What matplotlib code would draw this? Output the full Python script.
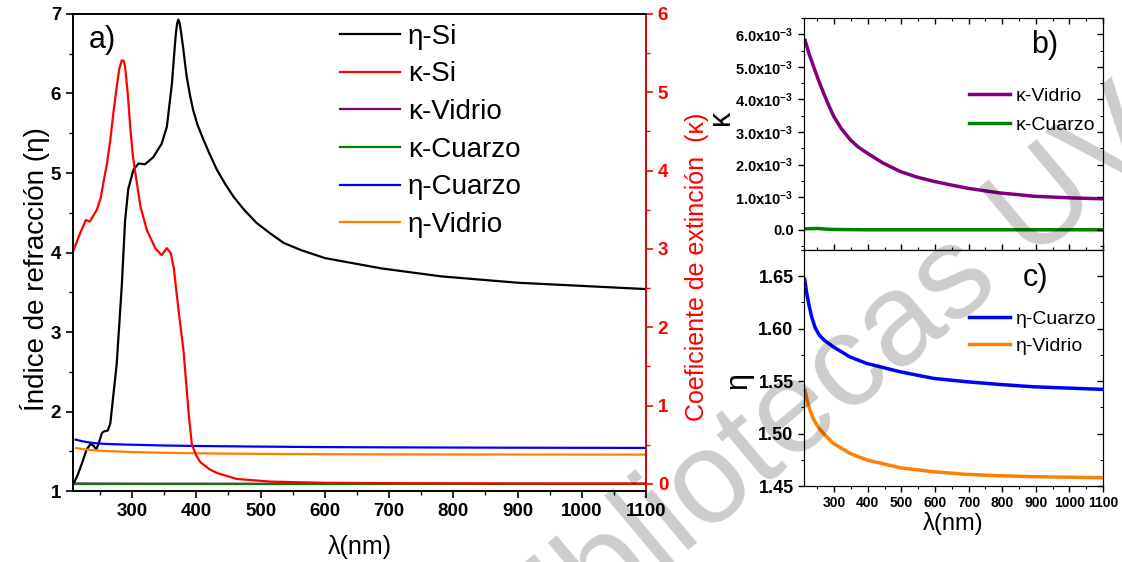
import numpy as np
import matplotlib.pyplot as plt
from matplotlib.ticker import MultipleLocator

plt.rcParams['font.family'] = ['Liberation Sans', 'DejaVu Sans']
plt.rcParams['mathtext.fontset'] = 'custom'
plt.rcParams['mathtext.rm'] = 'Liberation Sans'
plt.rcParams['mathtext.bf'] = 'Liberation Sans:bold'

# eta of silicon
wl_eta_si = [209, 215, 222, 229, 235, 240, 244, 248, 253, 256, 262, 266, 270, 276, 280, 284,
             289, 294, 302, 310, 320, 333, 346, 354, 362, 365, 368, 370, 372, 374, 376, 379,
             382, 385, 390, 395, 402, 411, 420, 432, 445, 458, 475, 494, 515, 536, 563, 600,
             688, 781, 900, 1000, 1100]
eta_si = [1.09, 1.2, 1.35, 1.52, 1.59, 1.57, 1.52, 1.6, 1.73, 1.75, 1.76, 1.85, 2.15, 2.6, 3.1, 3.6,
          4.4, 4.8, 5.04, 5.12, 5.11, 5.2, 5.37, 5.58, 6.13, 6.45, 6.75, 6.88, 6.93, 6.88, 6.78, 6.6,
          6.4, 6.21, 5.98, 5.79, 5.6, 5.42, 5.25, 5.04, 4.86, 4.70, 4.53, 4.37, 4.24, 4.12, 4.03, 3.93,
          3.80, 3.70, 3.62, 3.58, 3.54]

# kappa of silicon
wl_k_si = [209, 219, 228, 234, 245, 251, 256, 261, 266, 271, 276, 280, 284, 287, 289, 293, 297,
           301, 305, 313, 323, 336, 346, 354, 360, 365, 369, 374, 380, 385, 388, 393, 400, 406,
           420, 432, 463, 515, 600, 700, 800, 900, 1000, 1100]
k_si = [2.99, 3.2, 3.37, 3.35, 3.5, 3.65, 3.88, 4.1, 4.39, 4.75, 5.07, 5.3, 5.41, 5.4, 5.33, 5.0,
        4.56, 4.2, 3.97, 3.54, 3.24, 3.01, 2.92, 3.01, 2.95, 2.75, 2.45, 2.1, 1.7, 1.2, 0.9, 0.5,
        0.36, 0.28, 0.19, 0.14, 0.064, 0.03, 0.015, 0.01, 0.008, 0.006, 0.005, 0.005]

# glass / quartz refractive index
wl_eta_cz = [212, 218, 225, 233, 243, 255, 270, 297, 347, 397, 496, 595, 694, 793, 892, 1100]
eta_cz = [1.647, 1.634, 1.622, 1.611, 1.601, 1.594, 1.589, 1.5827, 1.573, 1.5668, 1.5589,
          1.5526, 1.5494, 1.5468, 1.5446, 1.5421]
wl_eta_vd = [213, 220, 228, 235, 243, 255, 268, 297, 347, 397, 496, 595, 694, 793, 892, 1100]
eta_vd = [1.541, 1.531, 1.522, 1.516, 1.511, 1.505, 1.500, 1.4907, 1.4811, 1.4748, 1.4674,
          1.4636, 1.4611, 1.4598, 1.4589, 1.4579]

# glass / quartz extinction (x1e-3)
wl_k_vd = [213, 225, 238, 252, 268, 283, 298, 320, 347, 370, 397, 445, 496, 545, 595, 645, 694,
           745, 793, 845, 892, 1000, 1100]
k_vd = [5.82, 5.4, 5.02, 4.62, 4.2, 3.83, 3.49, 3.12, 2.77, 2.55, 2.36, 2.05, 1.79, 1.62, 1.49,
        1.38, 1.28, 1.2, 1.13, 1.08, 1.03, 0.98, 0.95]
wl_k_cz = [212, 250, 290, 400, 1100]
k_cz = [0.03, 0.04, 0.01, 0.0, 0.0]

k_vd_abs = np.array(k_vd) * 1e-3
k_cz_abs = np.array(k_cz) * 1e-3

x_ticks = list(range(300, 1101, 100))
a_left_ticks = [1, 2, 3, 4, 5, 6, 7]
a_right_ticks = [0, 1, 2, 3, 4, 5, 6]
b_ticks = [0, 1e-3, 2e-3, 3e-3, 4e-3, 5e-3, 6e-3]
b_labels = ['0.0'] + [r'$\mathbf{%d.0x10^{-3}}$' % i for i in range(1, 7)]
c_ticks = [1.45, 1.50, 1.55, 1.60, 1.65]

c_pur = '#800080'
c_grn = '#008000'
c_blu = '#0000ff'
c_org = '#ff8000'
bold = {'fontweight': 'bold'}

fig = plt.figure(figsize=(11.22, 5.62), dpi=100)

# ---- panel a ----
ax = fig.add_axes([0.0651, 0.1263, 0.5107, 0.8488])
axk = ax.twinx()

l1, = ax.plot(wl_eta_si, eta_si, color='black', lw=1.6)
l5, = ax.plot(wl_eta_cz, eta_cz, color=c_blu, lw=1.6)
l6, = ax.plot(wl_eta_vd, eta_vd, color=c_org, lw=1.6)
l3, = axk.plot(wl_k_vd, k_vd_abs, color=c_pur, lw=1.6)
l4, = axk.plot(wl_k_cz, k_cz_abs, color=c_grn, lw=1.6)
l2, = axk.plot(wl_k_si, k_si, color='red', lw=1.6)

ax.set_xlim(208, 1100)
ax.set_ylim(1, 7)
axk.set_ylim(-0.09, 6)
ax.set_xticks(x_ticks, [str(v) for v in x_ticks], **bold)
ax.set_yticks(a_left_ticks, [str(v) for v in a_left_ticks], **bold)
axk.set_yticks(a_right_ticks, [str(v) for v in a_right_ticks], **bold)
ax.xaxis.set_minor_locator(MultipleLocator(50))
ax.yaxis.set_minor_locator(MultipleLocator(0.5))
axk.yaxis.set_minor_locator(MultipleLocator(0.5))

for a in (ax, axk):
    a.tick_params(which='major', direction='out', length=5, width=1.2, labelsize=13.5)
    a.tick_params(which='minor', direction='out', length=3, width=1.0)
    for s in a.spines.values():
        s.set_linewidth(1.2)
axk.tick_params(axis='y', which='both', colors='red')
axk.spines['right'].set_color('red')

ax.set_ylabel('Índice de refracción (η)', fontsize=20)
ax.yaxis.set_label_coords(-0.04, 0.465)
axk.set_ylabel('Coeficiente de extinción  (κ)', fontsize=18, color='red')
axk.yaxis.set_label_coords(1.068, 0.47)
ax.set_xlabel('λ(nm)', fontsize=18)
ax.xaxis.set_label_coords(0.5, -0.092)
ax.text(0.052, 0.945, 'a)', transform=ax.transAxes, fontsize=22, ha='center', va='center')

axk.legend([l1, l2, l3, l4, l5, l6], ['η-Si', 'κ-Si', 'κ-Vidrio', 'κ-Cuarzo', 'η-Cuarzo', 'η-Vidrio'],
           loc='upper left', bbox_to_anchor=(0.303, 0.958), bbox_transform=fig.transFigure,
           frameon=False, fontsize=20, borderpad=0, borderaxespad=0, handlelength=2.15,
           handletextpad=0.3, labelspacing=0.42)

# ---- panel b ----
axb = fig.add_axes([0.7166, 0.5552, 0.2665, 0.4128])
axb.plot(wl_k_vd, k_vd_abs, color=c_pur, lw=2.5, label='κ-Vidrio')
axb.plot(wl_k_cz, k_cz_abs, color=c_grn, lw=2.5, label='κ-Cuarzo')
axb.set_xlim(210, 1100)
axb.set_ylim(-0.62e-3, 6.5e-3)
axb.set_xticks(x_ticks)
axb.xaxis.set_minor_locator(MultipleLocator(50))
axb.set_yticks(b_ticks, b_labels, **bold)
axb.yaxis.set_minor_locator(MultipleLocator(0.5e-3))
axb.tick_params(axis='x', which='both', labelbottom=False, direction='in', top=True)
axb.tick_params(axis='y', which='both', direction='out', labelsize=10.5)
axb.tick_params(which='major', length=4, width=1.0)
axb.tick_params(which='minor', length=2.5, width=0.8)
axb.set_ylabel('κ', fontsize=22)
axb.yaxis.set_label_coords(-0.228, 0.57)
axb.text(0.806, 0.884, 'b)', transform=axb.transAxes, fontsize=22, ha='center', va='center')
axb.legend(loc='upper left', bbox_to_anchor=(0.8636, 0.845), bbox_transform=fig.transFigure,
           frameon=False, fontsize=14, borderpad=0, borderaxespad=0, handlelength=2.1,
           handletextpad=0.3, labelspacing=0.6)
# inward ticks on the right side
axb_r = axb.twinx()
axb_r.set_ylim(axb.get_ylim())
axb_r.set_yticks(b_ticks)
axb_r.yaxis.set_minor_locator(MultipleLocator(0.5e-3))
axb_r.tick_params(axis='y', which='both', direction='in', labelright=False)
axb_r.tick_params(which='major', length=4, width=1.0)
axb_r.tick_params(which='minor', length=2.5, width=0.8)

# ---- panel c ----
axc = fig.add_axes([0.7166, 0.1352, 0.2665, 0.42])
axc.plot(wl_eta_cz, eta_cz, color=c_blu, lw=2.5, label='η-Cuarzo')
axc.plot(wl_eta_vd, eta_vd, color=c_org, lw=2.5, label='η-Vidrio')
axc.set_xlim(210, 1100)
axc.set_ylim(1.45, 1.675)
axc.set_xticks(x_ticks, [str(v) for v in x_ticks], **bold)
axc.xaxis.set_minor_locator(MultipleLocator(50))
axc.set_yticks(c_ticks, ['%.2f' % v for v in c_ticks], **bold)
axc.yaxis.set_minor_locator(MultipleLocator(0.025))
axc.tick_params(axis='x', which='both', direction='out', labelsize=10)
axc.tick_params(axis='y', which='both', direction='out', labelsize=13)
axc.tick_params(which='major', length=4, width=1.0)
axc.tick_params(which='minor', length=2.5, width=0.8)
axc.set_ylabel('η', fontsize=22)
axc.yaxis.set_label_coords(-0.17, 0.445)
axc.set_xlabel('λ(nm)', fontsize=17)
axc.xaxis.set_label_coords(0.498, -0.11)
axc.text(0.773, 0.881, 'c)', transform=axc.transAxes, fontsize=22, ha='center', va='center')
axc.legend(loc='upper left', bbox_to_anchor=(0.8636, 0.4484), bbox_transform=fig.transFigure,
           frameon=False, fontsize=14, borderpad=0, borderaxespad=0, handlelength=2.1,
           handletextpad=0.3, labelspacing=0.5)
axc_r = axc.twinx()
axc_r.set_ylim(axc.get_ylim())
axc_r.set_yticks(c_ticks)
axc_r.yaxis.set_minor_locator(MultipleLocator(0.025))
axc_r.tick_params(axis='y', which='both', direction='in', labelright=False)
axc_r.tick_params(which='major', length=4, width=1.0)
axc_r.tick_params(which='minor', length=2.5, width=0.8)

# watermark
fig.text(0.731, 0.297, 'Bibliotecas UV', rotation=40, fontsize=95, color='black', alpha=0.2,
         ha='center', va='center', zorder=10)

fig.savefig('out.png', dpi=100)
